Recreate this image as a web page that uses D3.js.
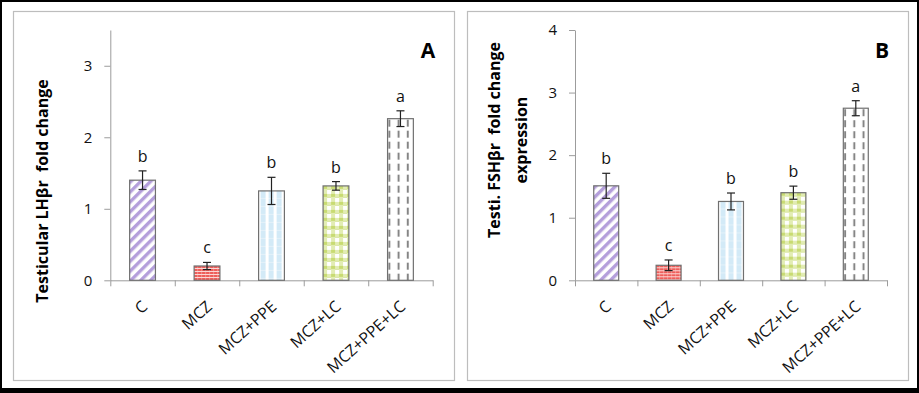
<!DOCTYPE html>
<html>
<head>
<meta charset="utf-8">
<script src="https://cdn.jsdelivr.net/npm/d3@7"></script>
<style>
  body { margin: 0; background: #fff; }
  text { font-family: "Open Sans", sans-serif; white-space: pre; }
</style>
</head>
<body>
<div id="chart"></div>
<script>
// data
var categories = ["C", "MCZ", "MCZ+PPE", "MCZ+LC", "MCZ+PPE+LC"];

var lhValues  = [1.40, 0.20, 1.25, 1.32, 2.26];
var lhErrors  = [0.13, 0.05, 0.19, 0.06, 0.11];
var lhLetters = ["b", "c", "b", "b", "a"];
var lhTicks   = [0, 1, 2, 3];

var fshValues  = [1.51, 0.24, 1.26, 1.40, 2.75];
var fshErrors  = [0.20, 0.085, 0.135, 0.105, 0.12];
var fshLetters = ["b", "c", "b", "b", "a"];
var fshTicks   = [0, 1, 2, 3, 4];

var width = 919, height = 393;

var svg = d3.select("#chart")
  .append("svg")
    .attr("width", width)
    .attr("height", height);

// black frame round the whole figure
svg.append("rect").attr("width", width).attr("height", height).attr("fill", "#000");
svg.append("rect").attr("x", 2).attr("y", 2).attr("width", 915).attr("height", 386).attr("fill", "#fff");

// fill patterns, one per group
var defs = svg.append("defs");

var p0 = defs.append("pattern").attr("id", "pat0")
  .attr("patternUnits", "userSpaceOnUse").attr("width", 7).attr("height", 7)
  .attr("patternTransform", "rotate(45)");
p0.append("rect").attr("width", 7).attr("height", 7).attr("fill", "#fff");
p0.append("rect").attr("width", 3.4).attr("height", 7).attr("fill", "#b49fdb");

var p1 = defs.append("pattern").attr("id", "pat1")
  .attr("patternUnits", "userSpaceOnUse").attr("width", 4).attr("height", 3);
p1.append("rect").attr("width", 4).attr("height", 3).attr("fill", "#ee5d5a");
p1.append("rect").attr("y", 2).attr("width", 4).attr("height", 1).attr("fill", "#fbd6d4");
p1.append("rect").attr("x", 3).attr("width", 1).attr("height", 2).attr("fill", "#f38a86");

var p2 = defs.append("pattern").attr("id", "pat2")
  .attr("patternUnits", "userSpaceOnUse").attr("width", 8).attr("height", 8);
p2.append("rect").attr("width", 8).attr("height", 8).attr("fill", "#fff");
p2.append("rect").attr("x", 2).attr("width", 5).attr("height", 8).attr("fill", "#d3eaf7");
p2.append("rect").attr("x", 2).attr("y", 7).attr("width", 5).attr("height", 1).attr("fill", "#e3f1f9");

var p3 = defs.append("pattern").attr("id", "pat3")
  .attr("patternUnits", "userSpaceOnUse").attr("width", 8).attr("height", 8);
p3.append("rect").attr("width", 8).attr("height", 8).attr("fill", "#fff");
p3.append("rect").attr("width", 4).attr("height", 8).attr("fill", "#e2ecb4");
p3.append("rect").attr("width", 8).attr("height", 3).attr("fill", "#e2ecb4");
p3.append("rect").attr("width", 4).attr("height", 3).attr("fill", "#c8db72");
p3.append("rect").attr("x", 4).attr("y", 3).attr("width", 4).attr("height", 1).attr("fill", "#d8e69e");

var p4 = defs.append("pattern").attr("id", "pat4")
  .attr("patternUnits", "userSpaceOnUse").attr("width", 9.2).attr("height", 11);
p4.append("rect").attr("width", 9.2).attr("height", 11).attr("fill", "#fff");
p4.append("rect").attr("x", 0.8).attr("y", 1).attr("width", 2).attr("height", 7).attr("fill", "#858585");

var fills = ["url(#pat0)", "url(#pat1)", "url(#pat2)", "url(#pat3)", "url(#pat4)"];

function drawPanel(opt) {
  var g = svg.append("g");

  // light grey panel border
  g.append("rect")
    .attr("x", opt.box[0] + 0.5).attr("y", opt.box[1] + 0.5)
    .attr("width", opt.box[2]).attr("height", opt.box[3])
    .attr("fill", "none").attr("stroke", "#bdbdbd").attr("stroke-width", 1.2);

  var x = d3.scaleBand()
    .domain(categories)
    .range([opt.x0, opt.x1])
    .paddingInner(0.6)
    .paddingOuter(0.3);

  var y = d3.scaleLinear()
    .domain([0, opt.yMax])
    .range([280.3, 30]);

  var edges = d3.scaleLinear().domain([0, categories.length]).range([opt.x0, opt.x1]);

  // y axis
  var ya = g.append("g")
    .attr("transform", "translate(" + opt.x0 + ",0)")
    .call(d3.axisLeft(y).tickValues(opt.ticks).tickFormat(d3.format("d"))
      .tickSize(6).tickSizeOuter(0).tickPadding(12));
  ya.selectAll("path, line").attr("stroke", "#9c9c9c");
  ya.selectAll("text").attr("font-family", "Open Sans").attr("font-size", 15).attr("fill", "#111");

  // x axis with tick marks between categories
  var xa = g.append("g")
    .attr("transform", "translate(0," + y(0) + ")")
    .call(d3.axisBottom(edges).tickValues(d3.range(categories.length + 1))
      .tickSize(6).tickSizeOuter(0).tickFormat(""));
  xa.selectAll("path, line").attr("stroke", "#9c9c9c");

  // category labels
  g.selectAll(".cat")
    .data(categories)
    .enter()
    .append("text")
      .attr("transform", function(d) {
        return "translate(" + (x(d) + x.bandwidth() / 2 + 6) + ",308) rotate(-42)";
      })
      .attr("text-anchor", "end")
      .attr("font-size", 16)
      .attr("fill", "#111")
      .text(function(d) { return d; });

  // bars, each in its own group so the pattern starts at the bar's left edge
  var bars = g.selectAll(".bar")
    .data(opt.values)
    .enter()
    .append("g")
      .attr("transform", function(d, i) { return "translate(" + x(categories[i]) + "," + y(d) + ")"; });

  bars.append("rect")
    .attr("width", x.bandwidth())
    .attr("height", function(d) { return y(0) - y(d); })
    .attr("fill", function(d, i) { return fills[i]; })
    .attr("stroke", "#707070")
    .attr("stroke-width", 1.2);

  // error bars
  var err = g.selectAll(".err")
    .data(opt.values)
    .enter()
    .append("g")
      .attr("stroke", "#222")
      .attr("stroke-width", 1.2);
  err.append("line")
    .attr("x1", function(d, i) { return x(categories[i]) + x.bandwidth() / 2; })
    .attr("x2", function(d, i) { return x(categories[i]) + x.bandwidth() / 2; })
    .attr("y1", function(d, i) { return y(d + opt.errors[i]); })
    .attr("y2", function(d, i) { return y(d - opt.errors[i]); });
  [1, -1].forEach(function(s) {
    err.append("line")
      .attr("x1", function(d, i) { return x(categories[i]) + x.bandwidth() / 2 - 4; })
      .attr("x2", function(d, i) { return x(categories[i]) + x.bandwidth() / 2 + 4; })
      .attr("y1", function(d, i) { return y(d + s * opt.errors[i]); })
      .attr("y2", function(d, i) { return y(d + s * opt.errors[i]); });
  });

  // significance letters
  g.selectAll(".letter")
    .data(opt.values)
    .enter()
    .append("text")
      .attr("x", function(d, i) { return x(categories[i]) + x.bandwidth() / 2; })
      .attr("y", function(d, i) { return y(d + opt.errors[i]) - 9; })
      .attr("text-anchor", "middle")
      .attr("font-size", 16)
      .attr("fill", "#111")
      .text(function(d, i) { return opt.letters[i]; });

  // axis title, one or two lines
  opt.title.forEach(function(line, k) {
    g.append("text")
      .attr("transform", "translate(" + opt.titleX[k] + "," + opt.titleY + ") rotate(-90)")
      .attr("text-anchor", "middle")
      .attr("font-size", 16)
      .attr("font-weight", "bold")
      .attr("fill", "#000")
      .text(line);
  });

  // panel letter
  g.append("text")
    .attr("x", opt.tag[0]).attr("y", opt.tag[1])
    .attr("text-anchor", "middle")
    .attr("font-size", 21)
    .attr("font-weight", "bold")
    .attr("fill", "#000")
    .text(opt.tag[2]);
}

drawPanel({
  box: [13, 11, 441, 369],
  x0: 110.3, x1: 432.7, yMax: 3.5, ticks: lhTicks,
  values: lhValues, errors: lhErrors, letters: lhLetters,
  title: ["Testicular LH\u03b2r  fold change"], titleX: [48], titleY: 191,
  tag: [428, 58, "A"]
});

drawPanel({
  box: [467, 11, 441, 369],
  x0: 575, x1: 887, yMax: 4, ticks: fshTicks,
  values: fshValues, errors: fshErrors, letters: fshLetters,
  title: ["Testi. FSH\u03b2r  fold change", "expression"], titleX: [500, 527], titleY: 140,
  tag: [882, 58, "B"]
});
</script>
</body>
</html>
